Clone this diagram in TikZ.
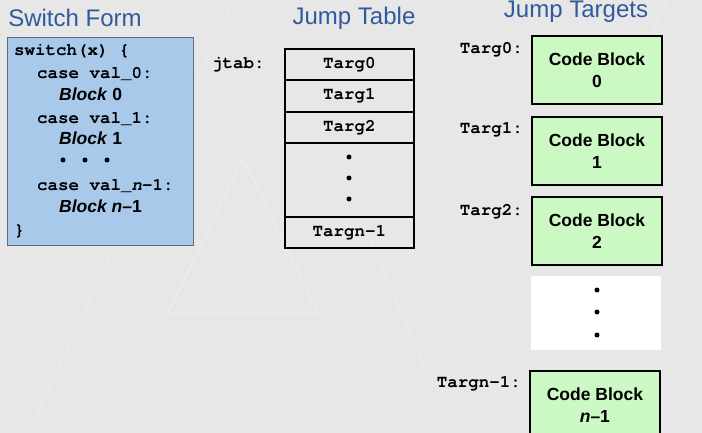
\documentclass[tikz,border=0pt]{standalone}
\usepackage{fontspec}
\setmainfont{Liberation Sans}
\setmonofont{TeX Gyre Cursor}
\begin{document}
\begin{tikzpicture}[x=1pt,y=-1pt,
  title/.style={font=\fontsize{24}{28}\selectfont, text=titleblue, inner sep=0pt},
  code/.style={font=\fontsize{17.5}{20}\selectfont\ttfamily\bfseries, inner sep=0pt, anchor=base west},
  blk/.style={font=\fontsize{17.5}{20}\selectfont\bfseries, inner sep=0pt, anchor=base west},
  cell/.style={draw=black, line width=1.8pt, minimum width=129pt, inner sep=0pt, font=\fontsize{17.5}{20}\selectfont\ttfamily\bfseries},
  target/.style={draw=black, line width=1.8pt, fill=codegreen, minimum width=130pt, minimum height=68pt, inner sep=0pt, align=center, font=\fontsize{17.5}{22}\selectfont\bfseries},
  lbl/.style={font=\fontsize{17.5}{20}\selectfont\ttfamily\bfseries, inner sep=0pt, anchor=east},
  dot/.style={circle, fill=black, inner sep=0pt, minimum size=5pt},
  deco/.style={draw=white, line width=1pt, opacity=0.35}
]
\definecolor{titleblue}{HTML}{2F5A9C}
\definecolor{codeblue}{HTML}{A9C9EA}
\definecolor{codeborder}{HTML}{5C6B80}
\definecolor{codegreen}{HTML}{CCF8C4}
\definecolor{bggrey}{HTML}{E7E7E7}
% background
\fill[bggrey] (0,0) rectangle (702,433);
\useasboundingbox (0,0) rectangle (702,433);
\clip (0,0) rectangle (702,433);
% decorative faint lines
\draw[deco] (243,158) -- (168,313) -- (318,313) -- cycle;
\draw[deco, opacity=0.25] (113,250) -- (30,430);
\draw[deco, opacity=0.25] (233,0) -- (200,75);
\draw[deco, opacity=0.25] (370,240) -- (430,380);
\draw[deco, opacity=0.25] (667,0) -- (640,60);
\draw[deco, opacity=0.2] (250,425) -- (430,425);

% titles
\node[title] (t1) at (75,18) {Switch Form};
\node[title] (t2) at (354,18) {Jump Table};
\node[title] (t3) at (576,12) {Jump Targets};

% switch form box
\node[draw=codeborder, line width=1pt, fill=codeblue, minimum width=186pt, minimum height=208pt, inner sep=0pt, anchor=north west] (sw) at (7,37) {};
\node[code] (l1) at (14,56) {switch(x) \{};
\node[code] (l2) at (37,79) {case val\_0:};
\node[blk] (l3) at (59,101) {\textit{Block} 0};
\node[code] (l4) at (37,124) {case val\_1:};
\node[blk] (l5) at (59,145) {\textit{Block} 1};
\node[dot] (d1) at (63,160) {};
\node[dot] (d2) at (85,160) {};
\node[dot] (d3) at (107,160) {};
\node[code] (l6) at (37,190) {case val\_\textit{n}-1:};
\node[blk] (l7) at (59,212) {\textit{Block n}–1};
\node[code] (l8) at (14,235) {\}};

% jump table
\node[code, anchor=west] (jt) at (212,65) {jtab:};
\node[cell, minimum height=31pt, anchor=north west] (c0) at (284,48) {Targ0};
\node[cell, minimum height=32pt, anchor=north west] (c1) at (284,79) {Targ1};
\node[cell, minimum height=31pt, anchor=north west] (c2) at (284,111) {Targ2};
\node[cell, minimum height=74pt, anchor=north west] (c3) at (284,142) {};
\node[cell, minimum height=31pt, anchor=north west] (c4) at (284,216) {Targn-1};
\node[dot] (e1) at (349,157) {};
\node[dot] (e2) at (349,178) {};
\node[dot] (e3) at (349,199) {};

% jump targets
\node[target, anchor=north west] (b0) at (531,35) {Code Block\\0};
\node[target, anchor=north west] (b1) at (531,116) {Code Block\\1};
\node[target, anchor=north west] (b2) at (531,196) {Code Block\\2};
\node[fill=white, minimum width=130pt, minimum height=74pt, inner sep=0pt, anchor=north west] (bd) at (531,276) {};
\node[dot] (f1) at (597,290) {};
\node[dot] (f2) at (597,312) {};
\node[dot] (f3) at (597,335) {};
\node[target, minimum height=80pt, anchor=north west, text depth=12pt] (bn) at (529,370) {Code Block\\\textit{n}–1};

\node[lbl] (g0) at (523,50) {Targ0:};
\node[lbl] (g1) at (523,130) {Targ1:};
\node[lbl] (g2) at (523,212) {Targ2:};
\node[lbl] (gn) at (521,384) {Targn-1:};
\end{tikzpicture}
\end{document}
